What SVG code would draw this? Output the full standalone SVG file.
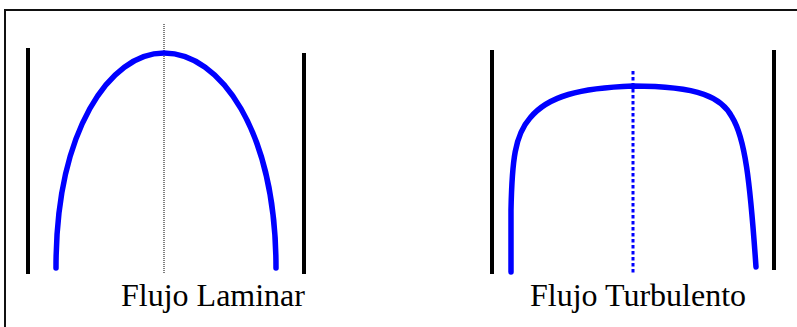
<svg xmlns="http://www.w3.org/2000/svg" width="797" height="327" viewBox="0 0 797 327">
<style>
.wall{stroke:#000;stroke-width:4;fill:none}
.prof{stroke:#0000ff;stroke-width:5.5;fill:none;stroke-linecap:round;stroke-linejoin:round}
.lbl{font-family:"Liberation Serif","Times New Roman",serif;font-size:32px;fill:#000}
</style>
<rect width="797" height="327" fill="#fff"/>
<path d="M5,327 L5,10 L797,10" fill="none" stroke="#111" stroke-width="2"/>
<g id="laminar">
<line class="wall" x1="28" y1="48" x2="28" y2="274"/>
<line class="wall" x1="304" y1="53" x2="304" y2="274"/>
<line x1="164" y1="24" x2="164" y2="273" stroke="#000" stroke-width="1" stroke-dasharray="1 1"/>
<path class="prof" d="M56,268 C56,130 110,53 164,53 C220,53 276,130 276,268"/>
<text class="lbl" x="121" y="306">Flujo Laminar</text>
</g>
<g id="turbulento">
<line class="wall" x1="492" y1="50" x2="492" y2="274"/>
<line class="wall" x1="774" y1="50" x2="774" y2="270"/>
<line x1="633" y1="71" x2="633" y2="273" stroke="#0000ff" stroke-width="3" stroke-dasharray="3.5 2.5"/>
<path class="prof" d="M511,272 L511,210 C512,160 515,135 530,118 C548,96 580,88 633,86 C700,86 722,98 732,117 C745,138 750,180 756,267"/>
<text class="lbl" x="530" y="306">Flujo Turbulento</text>
</g>
<g id="connectors"/>
</svg>
